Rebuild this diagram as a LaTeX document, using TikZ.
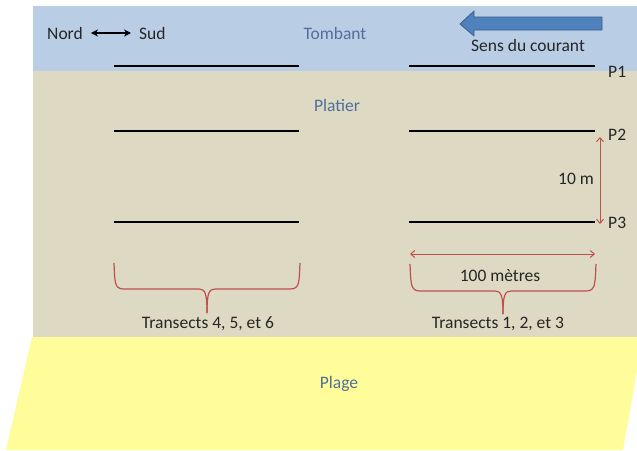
\documentclass[tikz,border=0pt]{standalone}
\usepackage{fontspec}
\setmainfont{Carlito}
\usetikzlibrary{arrows.meta}
\definecolor{seablue}{HTML}{B9CDE5}
\definecolor{reeftan}{HTML}{DDD9C3}
\definecolor{beachyel}{HTML}{FFFD99}
\definecolor{zonetxt}{HTML}{4F6F9C}
\definecolor{redline}{HTML}{C0504D}
\definecolor{arrowfill}{HTML}{4F81BD}
\definecolor{arrowedge}{HTML}{385D8A}
\tikzset{
  txt/.style={font=\fontsize{17.5}{20}\selectfont, inner sep=0pt, text=black!85},
  zone/.style={txt, text=zonetxt},
  transect/.style={line width=2.2pt, black},
  redarrow/.style={redline, line width=1pt, {Straight Barb[length=4pt,width=7pt]}-{Straight Barb[length=4pt,width=7pt]}},
  bracestyle/.style={redline, line width=1.2pt}
}
\begin{document}
\begin{tikzpicture}[x=1pt,y=-1pt]
\useasboundingbox (0,0) rectangle (637,450);
\fill[white] (0,0) rectangle (637,450);
% zones
\fill[seablue] (33,6) rectangle (637,71);
\fill[reeftan] (33,71) rectangle (637,337);
\fill[beachyel] (32,337) -- (637,337) -- (637,371) -- (623,450) -- (6,450) -- cycle;
\node[zone] (tombant) at (335,33) {Tombant};
\node[zone] (platier) at (337,105) {Platier};
\node[zone] (plage) at (339,384) {Plage};
% orientation
\node[txt, anchor=west] (nord) at (47,33) {Nord};
\node[txt, anchor=west] (sud) at (139,33) {Sud};
\draw[line width=1.8pt, {Stealth[length=7pt,width=7pt]}-{Stealth[length=7pt,width=7pt]}] ([xshift=8pt]nord.east) -- ([xshift=-8pt]sud.west);
% current arrow
\draw[fill=arrowfill, draw=arrowedge, line width=0.8pt, line join=round]
  (460,24) -- (474,11) -- (474,17) -- (602,17) -- (602,30) -- (474,30) -- (474,36) -- cycle;
\node[txt] (courant) at (528,45) {Sens du courant};
% transects
\foreach \n/\y in {1/66,2/131,3/222}{
  \coordinate (L\n a) at (114,\y);
  \coordinate (L\n b) at (299,\y);
  \coordinate (R\n a) at (409,\y);
  \coordinate (R\n b) at (595,\y);
  \draw[transect] (L\n a) -- (L\n b);
  \draw[transect] (R\n a) -- (R\n b);
}
\node[txt, anchor=west] (p1) at (608,72) {P1};
\node[txt, anchor=west] (p2) at (608,135) {P2};
\node[txt, anchor=west] (p3) at (608,223) {P3};
% 10 m
\coordinate (vt) at (600,137);
\coordinate (vb) at (600,224);
\draw[redarrow] (vt) -- (vb);
\node[txt, anchor=east] (dix) at (594,179) {10 m};
% 100 metres
\coordinate (hl) at (410,254);
\coordinate (hr) at (595,254);
\draw[redarrow] (hl) -- (hr);
\node[txt] (cent) at (500,276) {100 mètres};
% braces
\draw[bracestyle] (410,264) .. controls (411,283) and (410,291) .. (420,291) -- (495,291)
  .. controls (501,291) and (503,295) .. (503,314);
\draw[bracestyle] (596,264) .. controls (595,283) and (596,291) .. (586,291) -- (511,291)
  .. controls (505,291) and (503,295) .. (503,314);
\draw[bracestyle] (114,263) .. controls (115,282) and (114,289) .. (124,289) -- (199,289)
  .. controls (205,289) and (207,293) .. (207,313);
\draw[bracestyle] (300,263) .. controls (299,282) and (300,289) .. (290,289) -- (215,289)
  .. controls (209,289) and (207,293) .. (207,313);
\node[txt] (tr123) at (498,324) {Transects 1, 2, et 3};
\node[txt] (tr456) at (208,324) {Transects 4, 5, et 6};
\end{tikzpicture}
\end{document}
